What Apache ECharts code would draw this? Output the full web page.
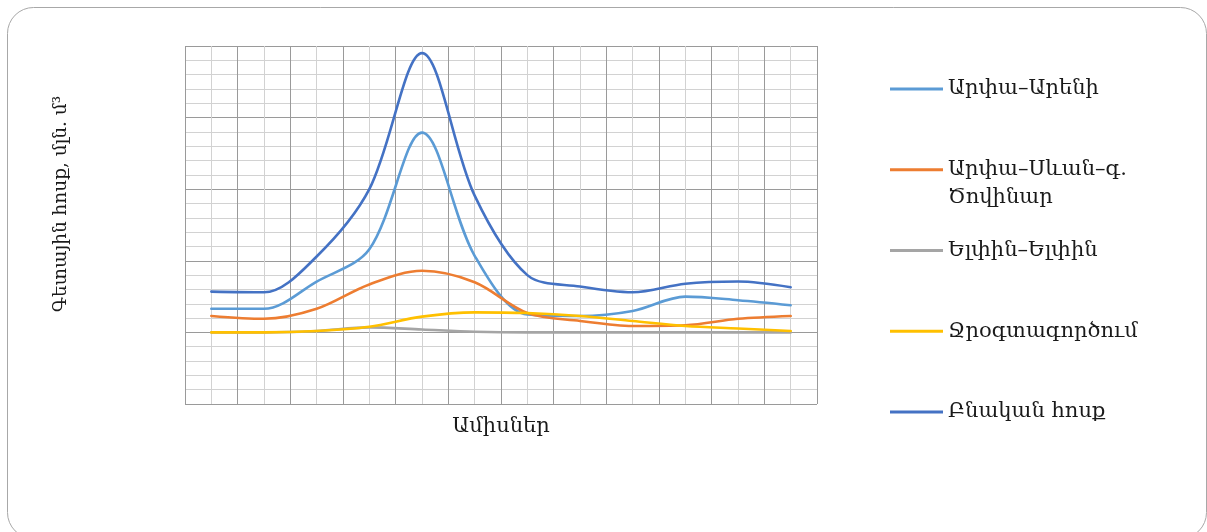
<!DOCTYPE html>
<html>
<head>
<meta charset="utf-8">
<script src="https://cdn.jsdelivr.net/npm/echarts@6/dist/echarts.min.js"></script>
<style>
  html, body { margin: 0; padding: 0; background: #fff; }
  #chart { width: 1207px; height: 532px; }
</style>
</head>
<body>
<div id="chart"></div>
<script>
// Months (category positions 1..12)
const months = ['1', '2', '3', '4', '5', '6', '7', '8', '9', '10', '11', '12'];

// Flow series, million m³
const arpaAreni = [0.33, 0.33, 0.71, 1.16, 2.79, 1.07, 0.25, 0.23, 0.30, 0.50, 0.45, 0.38];
const arpaSevan = [0.23, 0.19, 0.33, 0.67, 0.86, 0.70, 0.27, 0.16, 0.09, 0.10, 0.19, 0.23];
const yelpin = [0, 0, 0.02, 0.07, 0.04, 0.01, 0, 0, 0, 0, 0, 0];
const waterUse = [0, 0, 0.02, 0.08, 0.22, 0.28, 0.27, 0.23, 0.16, 0.09, 0.055, 0.02];
const naturalFlow = [0.57, 0.56, 1.06, 2.0, 3.90, 1.91, 0.80, 0.64, 0.56, 0.68, 0.71, 0.63];

const seriesNames = ['Արփա–Արենի', 'Արփա–Սևան–գ.', 'Ելփին–Ելփին', 'Ջրօգտագործում', 'Բնական հոսք'];
const seriesColors = ['#5B9BD5', '#ED7D31', '#A5A5A5', '#FFC000', '#4472C4'];
const seriesValues = [arpaAreni, arpaSevan, yelpin, waterUse, naturalFlow];

const FONT = '"DejaVu Serif", serif';
const FONT_SIZE = 21;

// Each month sits in the middle of its band on a 0..12 value axis
const toPoints = vals => vals.map((v, i) => [i + 0.5, v]);

const chart = echarts.init(document.getElementById('chart'), null, { renderer: 'canvas' });

chart.setOption({
  animation: false,
  backgroundColor: '#ffffff',
  grid: { left: 185, top: 46, width: 632, height: 358, containLabel: false },
  xAxis: {
    type: 'value',
    min: 0,
    max: months.length,
    interval: 1,
    name: 'Ամիսներ',
    nameLocation: 'middle',
    nameGap: 12,
    nameTextStyle: { fontFamily: FONT, fontSize: FONT_SIZE, color: '#1a1a1a' },
    axisLine: { show: false },
    axisTick: { show: false },
    axisLabel: { show: false },
    splitLine: { show: true, lineStyle: { color: '#9a9a9a', width: 1 } },
    minorTick: { show: false, splitNumber: 2 },
    minorSplitLine: { show: true, lineStyle: { color: '#d2d2d2', width: 1 } }
  },
  yAxis: {
    type: 'value',
    min: -1,
    max: 4,
    interval: 1,
    axisLine: { show: false },
    axisTick: { show: false },
    axisLabel: { show: false },
    splitLine: { show: true, lineStyle: { color: '#9a9a9a', width: 1 } },
    minorTick: { show: false, splitNumber: 5 },
    minorSplitLine: { show: true, lineStyle: { color: '#d2d2d2', width: 1 } }
  },
  legend: {
    orient: 'vertical',
    left: 890,
    top: 75,
    padding: 0,
    itemWidth: 53,
    itemHeight: 3,
    itemGap: 52.75,
    icon: 'rect',
    textStyle: { fontFamily: FONT, fontSize: FONT_SIZE, color: '#1a1a1a', lineHeight: 28 },
    data: seriesNames
  },
  graphic: [
    {
      type: 'rect',
      silent: true,
      shape: { x: 7.5, y: 7.5, width: 1199, height: 531, r: 26 },
      style: { fill: 'none', stroke: '#a8a8a8', lineWidth: 1 }
    },
    {
      type: 'text',
      left: 948,
      top: 187,
      style: { text: 'Ծովինար', font: FONT_SIZE + 'px ' + FONT, fill: '#1a1a1a' }
    },
    {
      type: 'text',
      x: 61,
      y: 204,
      rotation: Math.PI / 2,
      style: {
        text: 'Գետային հոսք, մլն. մ³',
        font: '18.5px ' + FONT,
        fill: '#1a1a1a',
        align: 'center',
        verticalAlign: 'middle'
      }
    }
  ],
  series: seriesNames.map((name, k) => ({
    name,
    type: 'line',
    data: toPoints(seriesValues[k]),
    smooth: 0.33,
    showSymbol: false,
    symbol: 'none',
    color: seriesColors[k],
    lineStyle: { width: 2.6, color: seriesColors[k], cap: 'round' },
    z: 2 + k
  }))
});
</script>
</body>
</html>
